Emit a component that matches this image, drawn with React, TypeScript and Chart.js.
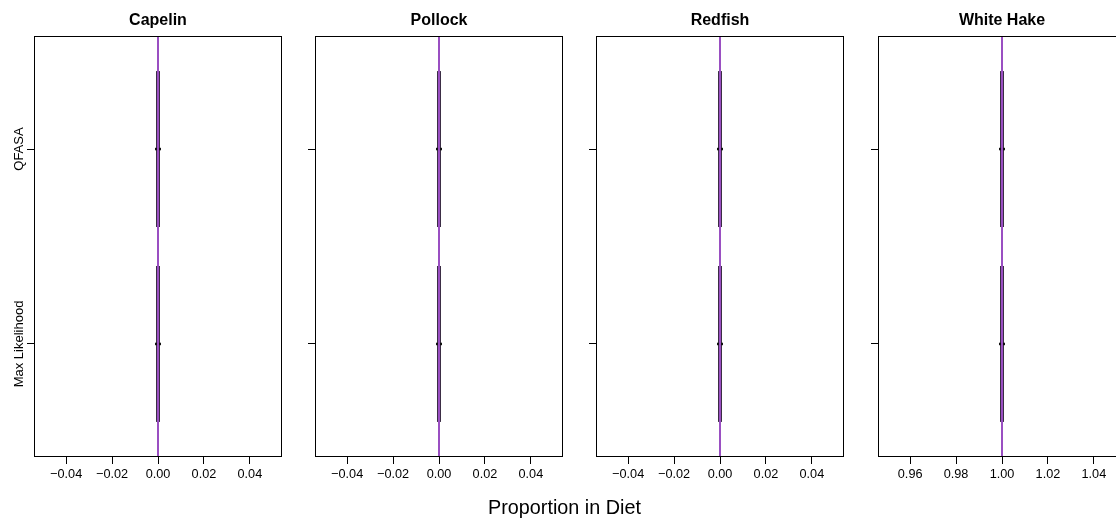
import React, { useEffect, useRef } from "react";
import { Chart, registerables } from "chart.js";

Chart.register(...registerables);

// Prey species shown as panels, and the estimation methods compared in each
const preyNames = ["Capelin", "Pollock", "Redfish", "White Hake"];
const methods = ["QFASA", "Max Likelihood"];

// True diet proportion for each prey (reference line)
const trueProportion = [0, 0, 0, 1];

// Five-number summaries of the estimated proportions, one value per prey
const qfasaMin = [0, 0, 0, 1];
const qfasaQ1 = [0, 0, 0, 1];
const qfasaMedian = [0, 0, 0, 1];
const qfasaQ3 = [0, 0, 0, 1];
const qfasaMax = [0, 0, 0, 1];

const mlMin = [0, 0, 0, 1];
const mlQ1 = [0, 0, 0, 1];
const mlMedian = [0, 0, 0, 1];
const mlQ3 = [0, 0, 0, 1];
const mlMax = [0, 0, 0, 1];

// Axis tick values
const ticksAroundZero = [-0.04, -0.02, 0, 0.02, 0.04];
const ticksAroundOne = [0.96, 0.98, 1, 1.02, 1.04];
const panelTicks = [ticksAroundZero, ticksAroundZero, ticksAroundZero, ticksAroundOne];

const xAxisTitle = "Proportion in Diet";

const FONT = "'Liberation Sans', Arial, Helvetica, sans-serif";
const PURPLE = "#9A4FC2";
const BOX_EDGE = "#3b2d45";
const AXIS_HALF_RANGE = 0.054;
const BOX_HALF_HEIGHT = 0.4;
const PANEL_LEFTS = [34, 315, 596, 878];
const PANEL_WIDTH = 248;
const Y_AXIS_WIDTH = 34;
const CANVAS_HEIGHT = 519;

type Summary = { min: number; q1: number; median: number; q3: number; max: number };

function summariesFor(p: number): Summary[] {
  return [
    { min: qfasaMin[p], q1: qfasaQ1[p], median: qfasaMedian[p], q3: qfasaQ3[p], max: qfasaMax[p] },
    { min: mlMin[p], q1: mlQ1[p], median: mlMedian[p], q3: mlQ3[p], max: mlMax[p] },
  ];
}

function formatTick(v: number): string {
  const s = Math.abs(v).toFixed(2);
  return v < -1e-9 ? "\u2212" + s : s;
}

function Panel({ index }: { index: number }) {
  const ref = useRef<HTMLCanvasElement | null>(null);

  useEffect(() => {
    const canvas = ref.current;
    if (!canvas) return;
    const center = trueProportion[index];
    const summaries = summariesFor(index);

    const boxPlugin = {
      id: "boxes",
      beforeDatasetsDraw(chart: any) {
        const { ctx, chartArea } = chart;
        const xs = chart.scales.x;
        const ys = chart.scales.y;
        ctx.save();
        ctx.beginPath();
        ctx.rect(chartArea.left, chartArea.top, chartArea.right - chartArea.left, chartArea.bottom - chartArea.top);
        ctx.clip();
        summaries.forEach((s, m) => {
          const yc = ys.getPixelForValue(m + 1);
          const half = Math.abs(ys.getPixelForValue(m + 1 + BOX_HALF_HEIGHT) - yc);
          const xa = xs.getPixelForValue(s.q1);
          const xb = xs.getPixelForValue(s.q3);
          const xMin = xs.getPixelForValue(s.min);
          const xMax = xs.getPixelForValue(s.max);
          // whiskers and staples
          ctx.strokeStyle = BOX_EDGE;
          ctx.lineWidth = 1.5;
          ctx.beginPath();
          ctx.moveTo(xMin, yc);
          ctx.lineTo(xa, yc);
          ctx.moveTo(xb, yc);
          ctx.lineTo(xMax, yc);
          ctx.moveTo(xMin, yc - half / 2);
          ctx.lineTo(xMin, yc + half / 2);
          ctx.moveTo(xMax, yc - half / 2);
          ctx.lineTo(xMax, yc + half / 2);
          ctx.stroke();
          // box: dark outline, purple fill
          const l = Math.min(xa, xb);
          const w = Math.abs(xb - xa);
          ctx.fillStyle = BOX_EDGE;
          ctx.fillRect(l - 2, yc - half, w + 4, half * 2);
          if (w > 2) {
            ctx.fillStyle = PURPLE;
            ctx.fillRect(l + 2, yc - half + 2, w - 4, half * 2 - 4);
          }
        });
        ctx.restore();
      },
      afterDatasetsDraw(chart: any) {
        const { ctx, chartArea } = chart;
        const xs = chart.scales.x;
        const x = xs.getPixelForValue(trueProportion[index]);
        ctx.save();
        ctx.beginPath();
        ctx.rect(chartArea.left, chartArea.top, chartArea.right - chartArea.left, chartArea.bottom - chartArea.top);
        ctx.clip();
        ctx.strokeStyle = PURPLE;
        ctx.lineWidth = 2;
        ctx.beginPath();
        ctx.moveTo(x, chartArea.top);
        ctx.lineTo(x, chartArea.bottom);
        ctx.stroke();
        ctx.restore();
        // panel frame
        ctx.save();
        ctx.strokeStyle = "#000";
        ctx.lineWidth = 1;
        ctx.strokeRect(
          Math.round(chartArea.left) + 0.5,
          Math.round(chartArea.top) + 0.5,
          Math.round(chartArea.right - chartArea.left) - 1,
          Math.round(chartArea.bottom - chartArea.top) - 1
        );
        ctx.restore();
      },
      afterDraw(chart: any) {
        if (index !== 0) return;
        const { ctx } = chart;
        const ys = chart.scales.y;
        ctx.save();
        ctx.fillStyle = "#000";
        ctx.font = `13px ${FONT}`;
        ctx.textAlign = "center";
        ctx.textBaseline = "alphabetic";
        methods.forEach((name, m) => {
          const py = ys.getPixelForValue(m + 1);
          ctx.save();
          ctx.translate(23, py);
          ctx.rotate(-Math.PI / 2);
          ctx.fillText(name, 0, 0);
          ctx.restore();
        });
        ctx.restore();
      },
    };

    const chart = new Chart(canvas, {
      type: "scatter",
      data: {
        datasets: [
          {
            label: "median",
            data: summaries.map((s, m) => ({ x: s.median, y: m + 1 })),
            pointStyle: "line",
            pointRadius: 3,
            borderWidth: 2.5,
            borderColor: "#111",
            backgroundColor: "#111",
            clip: false as any,
          },
        ],
      },
      options: {
        responsive: false,
        animation: false,
        events: [],
        layout: { autoPadding: false, padding: { left: 0, right: 2, top: 0, bottom: 0 } },
        plugins: {
          legend: { display: false },
          tooltip: { enabled: false },
          title: {
            display: true,
            text: preyNames[index],
            fullSize: false,
            color: "#000",
            font: { family: FONT, size: 16, weight: "bold" },
            padding: { top: 10.8, bottom: 6 },
          },
        },
        scales: {
          x: {
            type: "linear",
            min: center - AXIS_HALF_RANGE,
            max: center + AXIS_HALF_RANGE,
            afterBuildTicks: (scale: any) => {
              scale.ticks = panelTicks[index].map((v) => ({ value: v }));
            },
            afterFit: (scale: any) => {
              scale.height = CANVAS_HEIGHT - 457;
            },
            ticks: {
              autoSkip: false,
              maxRotation: 0,
              padding: 3,
              color: "#000",
              font: { family: FONT, size: 12.7 },
              callback: (v: any) => formatTick(Number(v)),
            },
            grid: { drawOnChartArea: false, drawTicks: true, tickLength: 7, color: "#000", lineWidth: 1 },
            border: { display: false },
          },
          y: {
            type: "linear",
            min: 0.42,
            max: 2.58,
            reverse: true,
            afterBuildTicks: (scale: any) => {
              scale.ticks = methods.map((_, m) => ({ value: m + 1 }));
            },
            afterFit: (scale: any) => {
              scale.width = Y_AXIS_WIDTH;
            },
            ticks: { display: false },
            grid: { drawOnChartArea: false, drawTicks: true, tickLength: 7, color: "#000", lineWidth: 1 },
            border: { display: false },
          },
        },
      },
      plugins: [boxPlugin],
    } as any);

    return () => chart.destroy();
  }, [index]);

  return (
    <canvas
      ref={ref}
      width={Y_AXIS_WIDTH + PANEL_WIDTH + 2}
      height={CANVAS_HEIGHT}
      style={{
        position: "absolute",
        left: PANEL_LEFTS[index] - Y_AXIS_WIDTH,
        top: 0,
        width: Y_AXIS_WIDTH + PANEL_WIDTH + 2,
        height: CANVAS_HEIGHT,
      }}
    />
  );
}

export default function App() {
  return (
    <div
      style={{
        position: "absolute",
        left: 0,
        top: 0,
        width: 1116,
        height: 519,
        overflow: "hidden",
        background: "#fff",
      }}
    >
      {preyNames.map((_, i) => (
        <Panel key={i} index={i} />
      ))}
      <div
        style={{
          position: "absolute",
          left: 0,
          width: 1129,
          top: 496,
          textAlign: "center",
          fontFamily: FONT,
          fontSize: 19.8,
          lineHeight: "22px",
          color: "#000",
        }}
      >
        {xAxisTitle}
      </div>
    </div>
  );
}
